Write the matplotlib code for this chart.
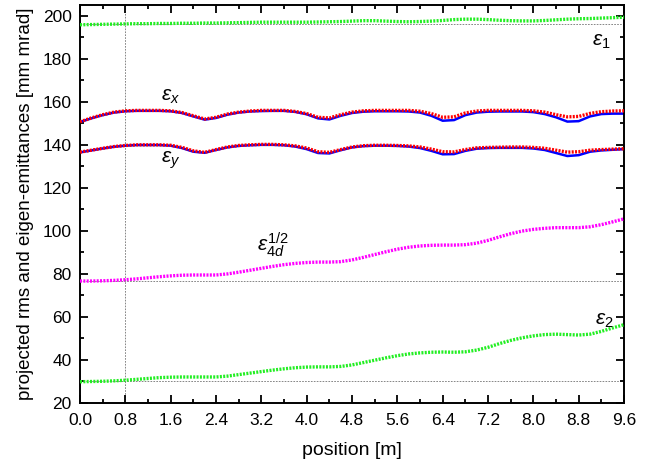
import matplotlib
matplotlib.use("Agg")
import matplotlib.pyplot as plt
from matplotlib.ticker import MultipleLocator

plt.rcParams["font.family"] = ["Liberation Sans", "DejaVu Sans"]
plt.rcParams["mathtext.fontset"] = "custom"
plt.rcParams["mathtext.rm"] = "Liberation Sans"
plt.rcParams["mathtext.it"] = "Liberation Sans:italic"

# position along the line [m], 0.2 m steps
position = [round(0.2 * i, 1) for i in range(49)]

eps1 = [195.8, 195.9, 196.0, 196.1, 196.2, 196.3, 196.3, 196.4, 196.4, 196.5,
        196.5, 196.6, 196.6, 196.7, 196.8, 196.9, 197.0, 197.0, 197.0, 197.0,
        197.0, 197.1, 197.2, 197.3, 197.5, 197.7, 197.7, 197.5, 197.3, 197.2,
        197.3, 197.5, 197.8, 198.2, 198.4, 198.4, 198.2, 197.9, 197.7, 197.6,
        197.6, 197.8, 198.1, 198.4, 198.6, 198.7, 198.9, 199.1, 199.3]

epsx_sim = [150.7, 152.5, 154.0, 155.2, 155.8, 156.0, 156.0, 156.0, 155.8, 155.0,
            153.5, 152.0, 152.8, 154.3, 155.2, 155.7, 156.0, 156.0, 156.0, 155.5,
            154.5, 152.8, 152.5, 154.0, 155.2, 155.8, 156.0, 156.0, 156.0, 156.0,
            155.6, 154.5, 152.8, 153.0, 154.8, 155.7, 156.0, 156.0, 156.0, 156.0,
            155.8, 155.2, 154.0, 153.0, 153.2, 154.6, 155.4, 155.7, 155.8]
epsx_ref = [150.6, 152.3, 153.8, 155.0, 155.6, 155.8, 155.8, 155.8, 155.6, 154.8,
            153.2, 151.7, 152.5, 154.0, 155.0, 155.5, 155.7, 155.8, 155.8, 155.3,
            154.2, 152.3, 151.8, 153.5, 154.8, 155.4, 155.6, 155.6, 155.6, 155.5,
            155.0, 153.5, 151.2, 151.5, 153.8, 155.0, 155.4, 155.5, 155.5, 155.5,
            155.2, 154.3, 152.8, 150.8, 151.0, 153.2, 154.3, 154.5, 154.5]

epsy_sim = [136.6, 137.5, 138.4, 139.2, 139.7, 140.0, 140.0, 140.0, 139.8, 138.8,
            137.2, 136.5, 137.8, 139.0, 139.7, 140.0, 140.2, 140.2, 140.0, 139.5,
            138.5, 136.8, 136.5, 137.8, 139.0, 139.6, 139.8, 139.8, 139.7, 139.5,
            139.0, 138.0, 136.8, 136.7, 137.8, 138.6, 138.8, 138.9, 139.0, 139.0,
            138.8, 138.4, 137.5, 136.6, 136.8, 137.5, 137.8, 138.0, 138.2]
epsy_ref = [136.5, 137.4, 138.3, 139.1, 139.6, 139.9, 139.9, 139.9, 139.6, 138.5,
            136.8, 136.3, 137.6, 138.8, 139.5, 139.8, 140.0, 140.0, 139.8, 139.2,
            138.0, 136.2, 136.0, 137.5, 138.8, 139.4, 139.6, 139.6, 139.5, 139.2,
            138.5, 137.2, 135.6, 135.7, 137.2, 138.2, 138.5, 138.6, 138.6, 138.6,
            138.3, 137.6, 136.2, 134.8, 135.2, 136.8, 137.4, 137.7, 138.0]

eps4d = [76.7, 76.7, 76.8, 77.0, 77.3, 77.7, 78.2, 78.7, 79.1, 79.4,
         79.5, 79.5, 79.5, 80.0, 80.8, 81.7, 82.6, 83.5, 84.3, 84.9,
         85.3, 85.5, 85.5, 85.7, 86.5, 87.7, 89.0, 90.3, 91.5, 92.4,
         93.0, 93.3, 93.4, 93.4, 93.6, 94.3, 95.6, 97.2, 98.7, 99.9,
         100.7, 101.2, 101.5, 101.5, 101.5, 101.9, 102.9, 104.2, 105.6]

eps2 = [29.9, 30.0, 30.1, 30.3, 30.6, 31.0, 31.4, 31.8, 32.0, 32.1,
        32.1, 32.1, 32.1, 32.5, 33.2, 33.9, 34.6, 35.3, 35.9, 36.4,
        36.7, 36.8, 36.8, 37.0, 37.7, 38.8, 39.9, 41.0, 42.0, 42.8,
        43.3, 43.6, 43.7, 43.6, 43.8, 44.6, 45.9, 47.6, 49.1, 50.3,
        51.2, 51.8, 52.0, 51.8, 51.6, 52.0, 53.3, 54.9, 56.4]

# reference lines
ref_x = 0.8
ref_levels = [196.0, 76.7, 30.0]

fig = plt.figure(figsize=(6.48, 4.65), dpi=100)
ax = fig.add_axes([0.1235, 0.1333, 0.8395, 0.856])

for lev in ref_levels:
    ax.axhline(lev, color="0.45", lw=0.6, ls=(0, (2, 1.5)), zorder=1)
ax.axvline(ref_x, color="0.45", lw=0.6, ls=(0, (2, 1.5)), zorder=1)

dots = (0, (0.6, 0.4))
ax.plot(position, eps1, color="#22ee22", lw=2.4, ls=dots, zorder=3)
ax.plot(position, eps2, color="#22ee22", lw=2.4, ls=dots, zorder=3)
ax.plot(position, eps4d, color="#ff00ff", lw=2.4, ls=dots, zorder=3)
ax.plot(position, epsx_ref, color="#0000ff", lw=1.8, zorder=2)
ax.plot(position, epsy_ref, color="#0000ff", lw=1.8, zorder=2)
ax.plot(position, epsx_sim, color="#ff0000", lw=2.4, ls=dots, zorder=3)
ax.plot(position, epsy_sim, color="#ff0000", lw=2.4, ls=dots, zorder=3)

lab = dict(fontsize=15, ha="center", va="center")
ax.text(1.6, 162.5, r"$\varepsilon_{x}$", **lab)
ax.text(1.6, 133.0, r"$\varepsilon_{y}$", **lab)
ax.text(9.2, 188, r"$\varepsilon_{\mathit{1}}$", **lab)
ax.text(9.25, 58.5, r"$\varepsilon_{\mathit{2}}$", **lab)
ax.text(3.4, 93.5, r"$\varepsilon_{\mathit{4d}}^{\mathit{1/2}}$", **lab)

ax.set_xlim(0, 9.6)
ax.set_ylim(20, 205)
ax.xaxis.set_minor_locator(MultipleLocator(0.4))
ax.yaxis.set_major_locator(MultipleLocator(20))
ax.yaxis.set_minor_locator(MultipleLocator(10))
ax.set_xticks([0.8 * i for i in range(13)])
ax.set_xticklabels([f"{0.8 * i:.1f}" for i in range(13)])
ax.tick_params(which="both", direction="in", top=True, right=True, width=1.3,
               labelsize=12.5)
ax.tick_params(which="major", length=6)
ax.tick_params(which="minor", length=3)
ax.tick_params(axis="x", pad=7)
ax.tick_params(axis="y", pad=6)
for s in ax.spines.values():
    s.set_linewidth(1.4)

ax.set_xlabel("position [m]", fontsize=14, labelpad=10)
ax.set_ylabel("projected rms and eigen-emittances [mm mrad]", fontsize=13.5,
              labelpad=6)

fig.savefig("out.png", dpi=100)
